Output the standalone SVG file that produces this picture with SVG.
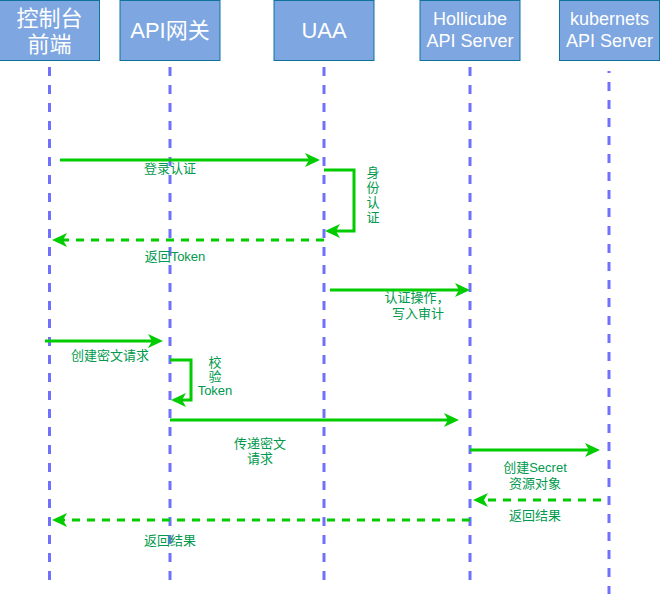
<svg xmlns="http://www.w3.org/2000/svg" width="671" height="598" viewBox="0 0 671 598">
<style>
.box{fill:#7EA6E0;stroke:#10739E;stroke-width:1}
.ht{fill:#ffffff;font-family:"Liberation Sans","Noto Sans CJK SC",sans-serif;text-anchor:middle}
.life{stroke:#7070FF;stroke-width:3;stroke-dasharray:9 9;fill:none}
.msg{stroke:#00CC00;stroke-width:3;fill:none;marker-end:url(#arr)}
.dash{stroke-dasharray:8 7}
.lbl{fill:#00994D;font-family:"Liberation Sans","Noto Sans CJK SC",sans-serif;font-size:13px;text-anchor:middle;dominant-baseline:central}
</style>
<defs>
<marker id="arr" markerUnits="userSpaceOnUse" markerWidth="16" markerHeight="15" refX="4" refY="7" orient="auto" overflow="visible">
<path d="M0,0 L15,7 L0,14 L4,7 Z" fill="#00CC00" stroke="none"/>
</marker>
</defs>
<rect width="671" height="598" fill="#ffffff"/>
<g id="node-console">
<rect class="box" x="-0.5" y="0.5" width="100" height="60"/>
<text class="ht" x="49.5" y="26" font-size="22">控制台</text>
<text class="ht" x="49.5" y="52" font-size="22">前端</text>
<line class="life" x1="49.5" y1="67" x2="49.5" y2="580"/>
</g>
<g id="node-gateway">
<rect class="box" x="120" y="0.5" width="100" height="60"/>
<text class="ht" x="170" y="38" font-size="22">API网关</text>
<line class="life" x1="170" y1="67" x2="170" y2="580"/>
</g>
<g id="node-uaa">
<rect class="box" x="274" y="0.5" width="100" height="60"/>
<text class="ht" x="324" y="38" font-size="22">UAA</text>
<line class="life" x1="324" y1="67" x2="324" y2="580"/>
</g>
<g id="node-hollicube">
<rect class="box" x="420" y="0.5" width="100" height="60"/>
<text class="ht" x="470" y="25" font-size="18">Hollicube</text>
<text class="ht" x="470" y="46.5" font-size="18">API Server</text>
<line class="life" x1="470" y1="67" x2="470" y2="580"/>
</g>
<g id="node-kubernetes">
<rect class="box" x="559.5" y="0.5" width="100" height="60"/>
<text class="ht" x="609.5" y="25" font-size="18">kubernets</text>
<text class="ht" x="609.5" y="46.5" font-size="18">API Server</text>
<line class="life" x1="609" y1="71" x2="609" y2="594" stroke-dashoffset="7"/>
</g>
<g id="connectors">
<path class="msg" d="M60,160 H309"/>
<path class="msg" d="M324,170 H354 V231 H336"/>
<path class="msg dash" d="M324,240 H63"/>
<path class="msg" d="M330,290 H459"/>
<path class="msg" d="M45,341 H152"/>
<path class="msg" d="M170,360 H191 V400 H182"/>
<path class="msg" d="M170,420 H448"/>
<path class="msg" d="M470,450 H589"/>
<path class="msg dash" d="M601,500 H484"/>
<path class="msg dash" d="M470,520 H63"/>
</g>
<g id="labels">
<text class="lbl" x="170" y="168">登录认证</text>
<text class="lbl" x="373" y="172">身</text>
<text class="lbl" x="373" y="187">份</text>
<text class="lbl" x="373" y="202">认</text>
<text class="lbl" x="373" y="217">证</text>
<text class="lbl" x="175" y="256">返回Token</text>
<text class="lbl" x="417" y="297">认证操作，</text>
<text class="lbl" x="418" y="313">写入审计</text>
<text class="lbl" x="110" y="355">创建密文请求</text>
<text class="lbl" x="215" y="362">校</text>
<text class="lbl" x="215" y="376">验</text>
<text class="lbl" x="215" y="390">Token</text>
<text class="lbl" x="260" y="443">传递密文</text>
<text class="lbl" x="260" y="458">请求</text>
<text class="lbl" x="535" y="467">创建Secret</text>
<text class="lbl" x="535" y="483">资源对象</text>
<text class="lbl" x="535" y="515">返回结果</text>
<text class="lbl" x="170" y="540">返回结果</text>
</g>
</svg>
